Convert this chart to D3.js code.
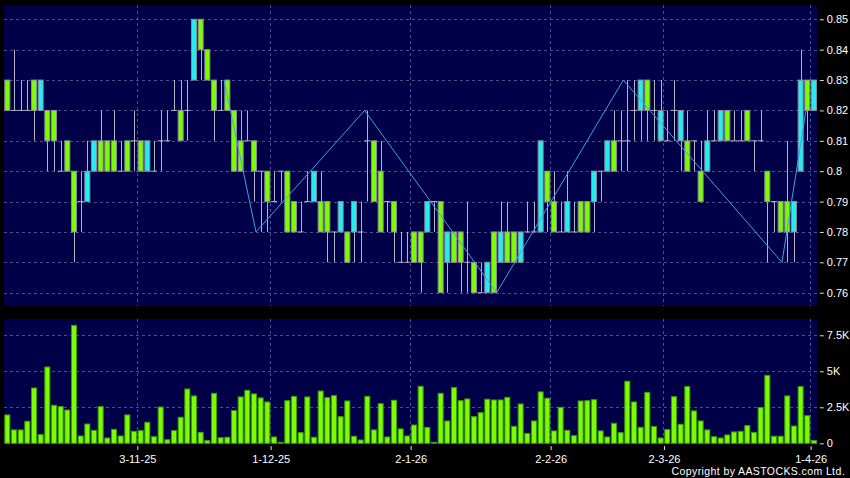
<!DOCTYPE html>
<html>
<head>
<meta charset="utf-8">
<script src="https://cdn.jsdelivr.net/npm/d3@7"></script>
<style>
  html, body { margin: 0; padding: 0; background: #000; }
  svg { display: block; }
</style>
</head>
<body>
<svg id="chart" width="850" height="478"></svg>
<script>
// ---------------- DATA ----------------
const openP = [0.83,0.82,0.82,0.82,0.83,0.82,0.82,0.82,0.80,0.81,
               0.80,0.79,0.79,0.80,0.81,0.81,0.81,0.80,0.81,0.81,
               0.81,0.80,0.80,0.81,0.81,0.82,0.82,0.82,0.83,0.85,
               0.84,0.83,0.82,0.83,0.82,0.81,0.81,0.81,0.80,0.80,
               0.79,0.80,0.80,0.79,0.78,0.79,0.79,0.79,0.79,0.78,
               0.78,0.78,0.78,0.78,0.81,0.81,0.80,0.79,0.79,0.77,
               0.77,0.78,0.78,0.78,0.79,0.79,0.77,0.78,0.78,0.77,
               0.77,0.76,0.76,0.78,0.77,0.78,0.78,0.77,0.78,0.78,
               0.78,0.80,0.79,0.78,0.78,0.78,0.79,0.79,0.79,0.80,
               0.80,0.81,0.81,0.81,0.82,0.82,0.83,0.82,0.81,0.81,
               0.82,0.81,0.81,0.81,0.80,0.80,0.81,0.81,0.82,0.81,
               0.81,0.82,0.81,0.81,0.80,0.79,0.79,0.79,0.78,0.80,
               0.83,0.82];
const highP = [0.83,0.84,0.83,0.83,0.83,0.83,0.82,0.82,0.81,0.81,
               0.80,0.80,0.81,0.81,0.82,0.81,0.82,0.81,0.81,0.82,
               0.81,0.81,0.81,0.82,0.82,0.83,0.83,0.83,0.85,0.85,
               0.84,0.83,0.83,0.83,0.82,0.82,0.82,0.81,0.80,0.80,
               0.80,0.80,0.80,0.79,0.79,0.80,0.80,0.80,0.79,0.78,
               0.79,0.78,0.79,0.79,0.82,0.81,0.81,0.79,0.79,0.78,
               0.78,0.78,0.78,0.79,0.79,0.79,0.78,0.78,0.78,0.79,
               0.77,0.77,0.77,0.78,0.79,0.79,0.78,0.78,0.79,0.79,
               0.81,0.80,0.80,0.79,0.80,0.79,0.79,0.79,0.80,0.80,
               0.81,0.82,0.82,0.83,0.83,0.83,0.83,0.83,0.83,0.82,
               0.83,0.82,0.82,0.81,0.81,0.82,0.82,0.82,0.82,0.82,
               0.82,0.82,0.81,0.82,0.80,0.79,0.79,0.81,0.79,0.84,
               0.83,0.83];
const lowP  = [0.82,0.82,0.82,0.82,0.81,0.82,0.80,0.80,0.80,0.80,
               0.77,0.78,0.79,0.80,0.80,0.80,0.80,0.80,0.80,0.80,
               0.80,0.80,0.80,0.80,0.81,0.82,0.81,0.81,0.83,0.83,
               0.83,0.81,0.82,0.82,0.80,0.80,0.81,0.79,0.78,0.78,
               0.79,0.79,0.78,0.78,0.78,0.79,0.79,0.78,0.77,0.77,
               0.78,0.77,0.77,0.77,0.79,0.79,0.78,0.78,0.77,0.77,
               0.77,0.77,0.76,0.78,0.78,0.76,0.76,0.77,0.76,0.76,
               0.76,0.76,0.76,0.76,0.77,0.77,0.77,0.77,0.78,0.78,
               0.78,0.78,0.78,0.78,0.78,0.78,0.78,0.78,0.78,0.79,
               0.80,0.80,0.80,0.80,0.81,0.81,0.81,0.81,0.81,0.81,
               0.81,0.80,0.80,0.80,0.79,0.80,0.81,0.81,0.81,0.81,
               0.81,0.81,0.80,0.81,0.77,0.78,0.78,0.77,0.77,0.80,
               0.81,0.82];
const closeP = [0.82,0.82,0.82,0.82,0.82,0.83,0.81,0.81,0.80,0.80,
               0.78,0.79,0.80,0.81,0.80,0.80,0.80,0.80,0.80,0.81,
               0.80,0.81,0.80,0.81,0.81,0.82,0.81,0.82,0.85,0.84,
               0.83,0.82,0.82,0.82,0.80,0.80,0.81,0.80,0.80,0.79,
               0.79,0.80,0.78,0.78,0.78,0.79,0.80,0.78,0.78,0.78,
               0.79,0.77,0.79,0.78,0.81,0.79,0.78,0.79,0.78,0.77,
               0.77,0.77,0.77,0.79,0.79,0.76,0.78,0.77,0.77,0.77,
               0.76,0.76,0.77,0.76,0.78,0.77,0.77,0.78,0.78,0.78,
               0.81,0.79,0.78,0.78,0.79,0.78,0.78,0.78,0.80,0.80,
               0.81,0.80,0.81,0.81,0.82,0.83,0.82,0.82,0.82,0.81,
               0.82,0.82,0.80,0.81,0.79,0.81,0.81,0.82,0.81,0.81,
               0.81,0.81,0.81,0.81,0.79,0.79,0.78,0.78,0.79,0.83,
               0.82,0.83];
// volume in thousands
const volumeK = [1.97,0.93,0.93,1.53,3.84,0.60,5.30,2.64,2.55,2.31,
                 8.19,0.51,1.34,0.90,2.55,0.37,0.97,0.51,1.97,0.83,
                 0.88,1.46,0.46,2.52,0.25,0.88,1.81,3.77,3.29,0.76,
                 0.19,3.47,0.39,0.42,2.27,3.22,3.68,3.43,3.15,2.87,
                 0.44,0.07,2.96,3.26,0.74,3.22,0.42,3.63,3.17,3.31,
                 1.85,2.94,0.49,0.23,3.26,0.93,2.75,0.44,2.99,1.00,
                 0.51,1.27,3.96,1.11,0.07,3.47,1.55,3.87,2.96,3.08,
                 1.85,2.13,3.06,3.01,3.01,3.19,1.18,2.73,0.69,1.55,
                 3.57,3.13,0.86,2.50,0.90,0.53,2.94,2.96,3.03,0.86,
                 0.44,1.39,0.74,4.31,2.87,1.11,3.54,1.16,0.37,0.95,
                 3.24,1.32,3.94,2.25,1.55,0.93,0.46,0.37,0.58,0.79,
                 0.83,1.23,0.76,2.48,4.72,0.49,0.49,3.29,1.20,3.94,
                 1.92,0.19];
// zigzag turning points (bar index, price)
const zigIdx   = [32.5, 37.3, 53.6, 73.4, 92.4, 116.2, 119.8];
const zigPrice = [0.83, 0.78, 0.82, 0.76, 0.83, 0.77, 0.82];
// month-start bars and labels
const tickIndex  = [20, 40, 61, 82, 99, 121];
const tickLabels = ["3-11-25", "1-12-25", "2-1-26", "2-2-26", "2-3-26", "1-4-26"];
const priceTicks = [0.76,0.77,0.78,0.79,0.80,0.81,0.82,0.83,0.84,0.85];
const volTicks   = [0, 2.5, 5, 7.5];

// ---------------- LAYOUT ----------------
const svg = d3.select("#chart");
const n = closeP.length;
const idx = d3.range(n);
const L = 4, R = 817.3;
const mainTop = 5, mainBot = 306;
const volTop = 319, volBot = 444;

const bg = "#000048";
const gridC = "#4d4d8e";
const upC = "#22eef2", downC = "#7cfc00";
const wickC = "#b4b4c4", edgeC = "#8c8c9a";

const x = d3.scaleBand().domain(idx).range([L, R]).paddingInner(0.1).paddingOuter(0.05);
const bw = x.bandwidth();
const xc = d3.scaleLinear().domain([0, n - 1]).range([x(0) + bw / 2, x(n - 1) + bw / 2]);
const y = d3.scaleLinear().domain([0.76, 0.85]).range([292.7, 19.3]);
const yv = d3.scaleLinear().domain([0, 7.5]).range([443.3, 335.3]);

// panels
svg.append("rect").attr("x", L).attr("y", mainTop).attr("width", R - L).attr("height", mainBot - mainTop).attr("fill", bg);
svg.append("rect").attr("x", L).attr("y", volTop).attr("width", R - L).attr("height", volBot - volTop).attr("fill", bg);

// grid
const g = svg.append("g").attr("stroke", gridC).attr("stroke-dasharray", "3,3").attr("stroke-width", 1);
g.selectAll(".hp").data(priceTicks).join("line")
  .attr("x1", L).attr("x2", R).attr("y1", d => Math.round(y(d)) + 0.5).attr("y2", d => Math.round(y(d)) + 0.5);
g.selectAll(".hv").data(volTicks.filter(d => d > 0)).join("line")
  .attr("x1", L).attr("x2", R).attr("y1", d => Math.round(yv(d)) + 0.5).attr("y2", d => Math.round(yv(d)) + 0.5);
tickIndex.forEach(i => {
  const gx = Math.round(x(i) - 1) + 0.5;
  g.append("line").attr("x1", gx).attr("x2", gx).attr("y1", mainTop).attr("y2", mainBot);
  g.append("line").attr("x1", gx).attr("x2", gx).attr("y1", volTop).attr("y2", volBot);
});

// candles
const cg = svg.append("g");
cg.selectAll(".wick").data(idx.filter(i => highP[i] > lowP[i])).join("line")
  .attr("x1", i => Math.round(x(i) + bw / 2) + 0.5).attr("x2", i => Math.round(x(i) + bw / 2) + 0.5)
  .attr("y1", i => y(highP[i])).attr("y2", i => y(lowP[i]))
  .attr("stroke", wickC).attr("stroke-width", 1);
cg.selectAll(".doji").data(idx.filter(i => openP[i] === closeP[i])).join("line")
  .attr("x1", i => x(i)).attr("x2", i => x(i) + bw)
  .attr("y1", i => y(openP[i])).attr("y2", i => y(openP[i]))
  .attr("stroke", wickC).attr("stroke-width", 1);
cg.selectAll(".body").data(idx.filter(i => openP[i] !== closeP[i])).join("rect")
  .attr("x", i => x(i) + 0.5).attr("width", bw - 1)
  .attr("y", i => y(Math.max(openP[i], closeP[i])))
  .attr("height", i => Math.abs(y(openP[i]) - y(closeP[i])))
  .attr("fill", i => closeP[i] > openP[i] ? upC : downC)
  .attr("stroke", edgeC).attr("stroke-width", 1);

// zigzag
svg.append("path")
  .datum(zigIdx.map((d, k) => [d, zigPrice[k]]))
  .attr("d", d3.line().x(d => xc(d[0])).y(d => y(d[1])))
  .attr("fill", "none").attr("stroke", "#3da2e6").attr("stroke-width", 1);

// volume bars
svg.append("g").selectAll("rect").data(idx).join("rect")
  .attr("x", i => x(i) + 0.5).attr("width", bw - 1)
  .attr("y", i => yv(volumeK[i])).attr("height", i => yv(0) - yv(volumeK[i]))
  .attr("fill", "#7cfc00").attr("stroke", "#3f9a0a").attr("stroke-width", 1);

// axes
const font = "'Liberation Sans', Arial, sans-serif";
const fmtP = d => String(+d.toFixed(2));
const yAxis = d3.axisRight(y).tickValues(priceTicks).tickFormat(fmtP).tickSize(4).tickPadding(3);
const ya = svg.append("g").attr("transform", `translate(${R + 2.5},0)`).call(yAxis);
const vAxis = d3.axisRight(yv).tickValues(volTicks).tickFormat(d => d === 0 ? "0" : d + "K").tickSize(4).tickPadding(3);
const va = svg.append("g").attr("transform", `translate(${R + 2.5},0)`).call(vAxis);
const xAxis = d3.axisBottom(d3.scaleLinear().domain([0, n]).range([L, R]))
  .tickValues(tickIndex).tickFormat((d, k) => tickLabels[k]).tickSize(4).tickPadding(5);
const xa = svg.append("g").attr("transform", `translate(0,${volBot + 2})`).call(xAxis);
[ya, va, xa].forEach(a => {
  a.select(".domain").remove();
  a.selectAll(".tick line").attr("stroke", "#dddddd");
  a.selectAll(".tick text").attr("fill", "#ffffff").attr("font-family", font).attr("font-size", 11);
});

// copyright
svg.append("text").attr("x", 845).attr("y", 475).attr("text-anchor", "end")
  .attr("fill", "#ffffff").attr("font-family", font).attr("font-size", 10.5)
  .attr("letter-spacing", 0.4)
  .text("Copyright by AASTOCKS.com Ltd.");
</script>
</body>
</html>
